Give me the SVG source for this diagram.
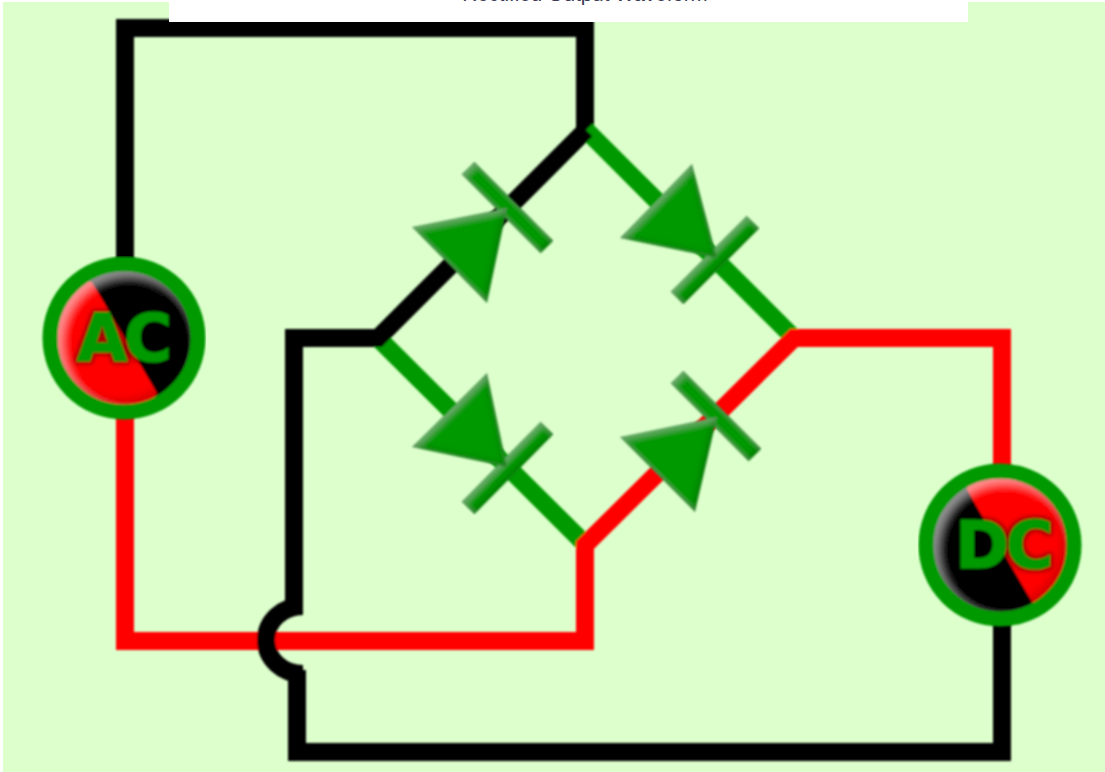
<svg xmlns="http://www.w3.org/2000/svg" width="1105" height="772" viewBox="0 0 1105 772">
<style>
.w{fill:none;stroke-width:18;stroke-linejoin:miter}
.k{stroke:#000}.r{stroke:#f00}.g{stroke:#090}
.bar{fill:none;stroke:#090;stroke-width:18;filter:url(#bevelS)}
.tri{fill:#090;filter:url(#bevelS)}
.disc{filter:url(#bevelL)}
.ring{fill:none;stroke:#090;stroke-width:15}
.lbl{font-family:"DejaVu Sans",sans-serif;font-weight:700;font-size:65px;letter-spacing:-3px;fill:#090;stroke:#090;stroke-width:1.2;text-anchor:middle;filter:url(#halo)}
.cap{font-family:"Liberation Sans",Arial,sans-serif;font-size:20.5px;fill:#3b3b55;text-anchor:middle}
</style>
<defs>
<filter id="soft" x="-5%" y="-5%" width="110%" height="110%"><feGaussianBlur stdDeviation=".9"/></filter>
<filter id="bevelS" filterUnits="userSpaceOnUse" x="0" y="0" width="1105" height="772">
<feGaussianBlur in="SourceAlpha" stdDeviation="3" result="b"/>
<feOffset in="b" dx="3" dy="3" result="o1"/>
<feFlood flood-color="#fff" flood-opacity=".16"/><feComposite operator="out" in2="o1"/><feComposite operator="in" in2="SourceAlpha" result="hi"/>
<feOffset in="b" dx="-3" dy="-3" result="o2"/>
<feFlood flood-color="#000" flood-opacity=".35"/><feComposite operator="out" in2="o2"/><feComposite operator="in" in2="SourceAlpha" result="lo"/>
<feMerge><feMergeNode in="SourceGraphic"/><feMergeNode in="hi"/><feMergeNode in="lo"/></feMerge>
</filter>
<filter id="bevelL" filterUnits="userSpaceOnUse" x="0" y="0" width="1105" height="772">
<feGaussianBlur in="SourceAlpha" stdDeviation="4" result="b"/>
<feOffset in="b" dx="5" dy="5" result="o1"/>
<feFlood flood-color="#fff" flood-opacity=".3"/><feComposite operator="out" in2="o1"/><feComposite operator="in" in2="SourceAlpha" result="hi"/>
<feOffset in="b" dx="-5" dy="-5" result="o2"/>
<feFlood flood-color="#000" flood-opacity=".35"/><feComposite operator="out" in2="o2"/><feComposite operator="in" in2="SourceAlpha" result="lo"/>
<feMerge><feMergeNode in="SourceGraphic"/><feMergeNode in="hi"/><feMergeNode in="lo"/></feMerge>
</filter>
<filter id="halo" filterUnits="userSpaceOnUse" x="0" y="0" width="1105" height="772">
<feMorphology in="SourceAlpha" operator="dilate" radius="1.5"/><feGaussianBlur stdDeviation="2" result="g"/>
<feFlood flood-color="#000" flood-opacity=".45"/><feComposite operator="in" in2="g" result="s"/>
<feMerge><feMergeNode in="s"/><feMergeNode in="SourceGraphic"/></feMerge>
</filter>
<clipPath id="acClip"><circle cx="124" cy="338" r="67"/></clipPath>
<clipPath id="dcClip"><circle cx="1000" cy="545" r="67"/></clipPath>
</defs>
<rect x="3" y="2" width="1102" height="770" fill="#ddffcc"/>
<g id="connectors" filter="url(#soft)">
<path class="w k" d="M125 262V28H585V130"/>
<path class="w g" d="M586 130L794 338"/>
<path class="w g" d="M378 338L586 545"/>
<path class="w k" d="M586 130L378 338H294V608"/>
<path class="w r" d="M125 415V641H585V545L794 338H1002V470"/>
<path d="M303 606A37 34 0 0 0 303 674" fill="none" stroke="#000" stroke-width="18"/>
<path class="w k" d="M297 670V752H1002V620"/>
</g>
<g id="diode-top-left" filter="url(#soft)">
<path class="bar" d="M468 168L547 247"/>
<path class="tri" d="M412 227L507 208L487 303Z"/>
</g>
<g id="diode-top-right" filter="url(#soft)">
<path class="bar" d="M677 298L753 222"/>
<path class="tri" d="M620 238L692 164L717 258Z"/>
</g>
<g id="diode-bottom-left" filter="url(#soft)">
<path class="bar" d="M468 508L547 428"/>
<path class="tri" d="M412 447L487 373L507 467Z"/>
</g>
<g id="diode-bottom-right" filter="url(#soft)">
<path class="bar" d="M677 377L755 455"/>
<path class="tri" d="M620 437L695 512L717 417Z"/>
</g>
<g id="ac-source" filter="url(#soft)">
<g class="disc">
<circle cx="124" cy="338" r="67" fill="#000"/>
<path clip-path="url(#acClip)" d="M92 282L157 393L140 420H40V270Z" fill="#f00"/>
</g>
<circle class="ring" cx="124" cy="338" r="74"/>
<text class="lbl" x="123" y="361">AC</text>
</g>
<g id="dc-source" filter="url(#soft)">
<g class="disc">
<circle cx="1000" cy="545" r="67" fill="#000"/>
<path clip-path="url(#dcClip)" d="M967 490L1032 602L1060 630H1080V470H970Z" fill="#f00"/>
</g>
<circle class="ring" cx="1000" cy="545" r="74"/>
<text class="lbl" x="1003" y="568">DC</text>
</g>
<g id="caption">
<rect x="169" y="0" width="799" height="22" fill="#fff"/>
<text class="cap" x="585" y="1">Rectified Output Waveform</text>
</g>
</svg>
